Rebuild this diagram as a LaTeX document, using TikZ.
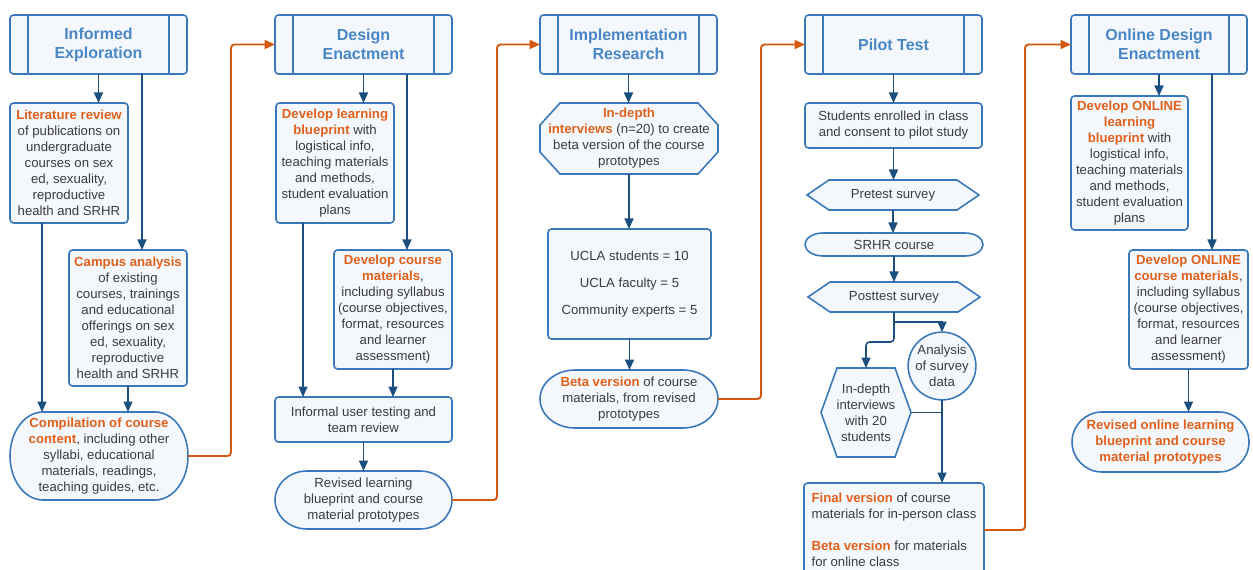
\documentclass[tikz,border=0pt]{standalone}
\usepackage{fontspec}
\setmainfont{Liberation Sans}
\usetikzlibrary{arrows.meta, calc, backgrounds}

\definecolor{frameblue}{HTML}{3A78B9}
\definecolor{boxfill}{HTML}{F4F8FD}
\definecolor{headblue}{HTML}{4A86C6}
\definecolor{navy}{HTML}{1B4F7E}
\definecolor{hilite}{HTML}{E0601A}
\definecolor{handorange}{HTML}{D4580F}
\definecolor{bodygray}{HTML}{3C3C3C}

\newcommand{\bodyfont}{\fontsize{7.5}{9.1}\selectfont}
\newcommand{\headfont}{\fontsize{9.1}{10.8}\selectfont\bfseries}
\newcommand{\keyterm}[1]{{\bfseries\color{hilite}#1}}

% outlines drawn round bare nodes
\newcommand{\stadium}[3]{\draw[shapeline] ($(#1.north west)+(#2,0)$) -- ($(#1.north east)+(-#2,0)$)
  arc[start angle=90, end angle=-90, x radius=#2, y radius=#3] -- ($(#1.south west)+(#2,0)$)
  arc[start angle=270, end angle=90, x radius=#2, y radius=#3] -- cycle;}
\newcommand{\hexframe}[2]{\draw[shapeline] (#1.west) -- ($(#1.north west)+(#2,0)$) -- ($(#1.north east)+(-#2,0)$)
  -- (#1.east) -- ($(#1.south east)+(-#2,0)$) -- ($(#1.south west)+(#2,0)$) -- cycle;}
\newcommand{\octframe}[3]{\draw[shapeline] ($(#1.north west)+(0,-#3)$) -- ($(#1.north west)+(#2,0)$)
  -- ($(#1.north east)+(-#2,0)$) -- ($(#1.north east)+(0,-#3)$) -- ($(#1.south east)+(0,#3)$)
  -- ($(#1.south east)+(-#2,0)$) -- ($(#1.south west)+(#2,0)$) -- ($(#1.south west)+(0,#3)$) -- cycle;}

\tikzset{
  sz/.style 2 args={minimum width=#1*0.02cm, minimum height=#2*0.02cm},
  bare/.style={align=center, inner sep=0pt, outer sep=0pt, font=\bodyfont, text=bodygray},
  box/.style={bare, rectangle, rounded corners=2pt, draw=frameblue, fill=boxfill, line width=0.9pt},
  shapeline/.style={draw=frameblue, fill=boxfill, line width=0.9pt},
  divider/.style={draw=frameblue, line width=0.9pt},
  phase/.style={box, font=\headfont, text=headblue, append after command={
      ([xshift=0.36cm]\tikzlastnode.north west) edge[divider] ([xshift=0.36cm]\tikzlastnode.south west)
      ([xshift=-0.36cm]\tikzlastnode.north east) edge[divider] ([xshift=-0.36cm]\tikzlastnode.south east)}},
  flowline/.style={draw=navy, line width=0.9pt},
  flowarrow/.style={flowline, -{Triangle[length=2.1mm, width=1.8mm]}},
  handoff/.style={draw=handorange, line width=1.1pt, rounded corners=2pt, -{Triangle[length=2.1mm, width=1.8mm]}},
}

\begin{document}
\begin{tikzpicture}[x=0.02cm, y=0.02cm]
\useasboundingbox (0,0) rectangle (1253,-570);
\clip (0,0) rectangle (1253,-570);

% informed exploration
\node[phase, sz={177}{59}] (explore) at (98.5,-44.5) {Informed\\Exploration};
\node[box, sz={118}{120}] (litrev) at (69,-163) {\keyterm{Literature review}\\of publications on\\undergraduate\\courses on sex\\ed, sexuality,\\reproductive\\health and SRHR};
\node[box, sz={118}{136}] (campus) at (128,-318) {\keyterm{Campus analysis}\\of existing\\courses, trainings\\and educational\\offerings on sex\\ed, sexuality,\\reproductive\\health and SRHR};
\node[bare, sz={178}{88}] (compil) at (99,-456) {\keyterm{Compilation of course}\\\keyterm{content}, including other\\syllabi, educational\\materials, readings,\\teaching guides, etc.};

% design enactment
\node[phase, sz={177}{59}] (design) at (363.5,-44.5) {Design\\Enactment};
\node[box, sz={118}{120}] (blueprint) at (335,-163) {\keyterm{Develop learning}\\\keyterm{blueprint} with\\logistical info,\\teaching materials\\and methods,\\student evaluation\\plans};
\node[box, sz={118}{119}] (coursemat) at (393,-309.5) {\keyterm{Develop course}\\\keyterm{materials},\\including syllabus\\(course objectives,\\format, resources\\and learner\\assessment)};
\node[box, sz={177}{45}] (usertest) at (363.5,-419.5) {Informal user testing and\\team review};
\node[bare, sz={177}{58}] (revised) at (363.5,-500) {Revised learning\\blueprint and course\\material prototypes};

% implementation research
\node[phase, sz={177}{59}] (implement) at (628.5,-44.5) {Implementation\\Research};
\node[bare, sz={178}{71}] (interviews) at (629,-138.5) {\keyterm{In-depth}\\\keyterm{interviews} (n=20) to create\\beta version of the course\\prototypes};
\node[box, sz={163}{110}] (sample) at (629.5,-284) {UCLA students = 10\\[0.22cm]UCLA faculty = 5\\[0.22cm]Community experts = 5};
\node[bare, sz={178}{58}] (betaver) at (629,-399) {\keyterm{Beta version} of course\\materials, from revised\\prototypes};

% pilot test
\node[phase, sz={177}{59}] (pilot) at (893.5,-44.5) {Pilot Test};
\node[box, sz={177}{45}] (enrol) at (893.5,-125.5) {Students enrolled in class\\and consent to pilot study};
\node[bare, sz={172}{30}] (pretest) at (893,-195) {Pretest survey};
\node[bare, sz={178}{23}] (srhr) at (894,-244.5) {SRHR course};
\node[bare, sz={172}{30}] (posttest) at (894,-297) {Posttest survey};
\node[box, circle, minimum size=66*0.02cm] (analysis) at (942,-366) {Analysis\\of survey\\data};
\node[bare, sz={90}{89}] (indepth) at (866,-412.5) {In-depth\\interviews\\with 20\\students};
\node[box, sz={180}{94}, align=left] (final) at (894,-530) {\keyterm{Final version} of course\\materials for in-person class\\[9.1pt]\keyterm{Beta version} for materials\\for online class};

% online design enactment
\node[phase, sz={176}{59}] (online) at (1159,-44.5) {Online Design\\Enactment};
\node[box, sz={117}{134}] (onlinebp) at (1129.5,-163) {\keyterm{Develop ONLINE}\\\keyterm{learning}\\\keyterm{blueprint} with\\logistical info,\\teaching materials\\and methods,\\student evaluation\\plans};
\node[box, sz={119}{119}] (onlinecm) at (1188.5,-309.5) {\keyterm{Develop ONLINE}\\\keyterm{course materials},\\including syllabus\\(course objectives,\\format, resources\\and learner\\assessment)};
\node[bare, sz={177}{60}] (onlinerev) at (1160.5,-442) {\keyterm{Revised online learning}\\\keyterm{blueprint and course}\\\keyterm{material prototypes}};

\begin{pgfonlayer}{background}
  \stadium{compil}{33}{44}
  \stadium{revised}{32}{29}
  \octframe{interviews}{20}{22}
  \stadium{betaver}{35}{29}
  \hexframe{pretest}{22}
  \stadium{srhr}{18}{11.5}
  \hexframe{posttest}{22}
  \hexframe{indepth}{16}
  \stadium{onlinerev}{30}{30}
\end{pgfonlayer}

% connectors
\coordinate (exploreR) at ([xshift=0.87cm]explore.south);
\coordinate (litrevL) at ([xshift=-0.54cm]litrev.south);
\draw[flowarrow] (explore.south) -- (explore.south |- litrev.north);
\draw[flowarrow] (exploreR) -- (exploreR |- campus.north);
\draw[flowarrow] (litrevL) -- (litrevL |- compil.north);
\draw[flowarrow] (campus.south) -- (campus.south |- compil.north);
\draw[handoff] (compil.east) -- ++(43,0) |- (design.west);

\coordinate (designR) at ([xshift=0.87cm]design.south);
\coordinate (blueprintL) at ([xshift=-0.64cm]blueprint.south);
\draw[flowarrow] (design.south) -- (design.south |- blueprint.north);
\draw[flowarrow] (designR) -- (designR |- coursemat.north);
\draw[flowarrow] (blueprintL) -- (blueprintL |- usertest.north);
\draw[flowarrow] (coursemat.south) -- (coursemat.south |- usertest.north);
\draw[flowarrow] (usertest.south) -- (usertest.south |- revised.north);
\draw[handoff] (revised.east) -- ++(45,0) |- (implement.west);

\draw[flowarrow] (implement.south) -- (implement.south |- interviews.north);
\draw[flowarrow] (interviews.south) -- (interviews.south |- sample.north);
\draw[flowarrow] (sample.south) -- (sample.south |- betaver.north);
\draw[handoff] (betaver.east) -- ++(43,0) |- (pilot.west);

\draw[flowarrow] (pilot.south) -- (pilot.south |- enrol.north);
\draw[flowarrow] (enrol.south) -- (enrol.south |- pretest.north);
\draw[flowarrow] (pretest.south) -- (pretest.south |- srhr.north);
\draw[flowarrow] (srhr.south) -- (srhr.south |- posttest.north);
\draw[flowline] (posttest.south) -- ++(0,-10) coordinate (split);
\draw[flowarrow] (split) -| (analysis.north);
\draw[flowarrow, rounded corners=2pt] (split) -- ++(0,-20) -| (indepth.north);
\draw[flowarrow] (analysis.south) -- (analysis.south |- final.north);
\draw[flowline] (indepth.east) -- (indepth.east -| analysis.south);
\draw[handoff] (final.east) -- ++(41,0) |- (online.west);

\coordinate (onlineR) at ([xshift=1.06cm]online.south);
\draw[flowarrow] (online.south) -- (online.south |- onlinebp.north);
\draw[flowarrow] (onlineR) -- (onlineR |- onlinecm.north);
\draw[flowarrow] (onlinecm.south) -- (onlinecm.south |- onlinerev.north);
\end{tikzpicture}
\end{document}
